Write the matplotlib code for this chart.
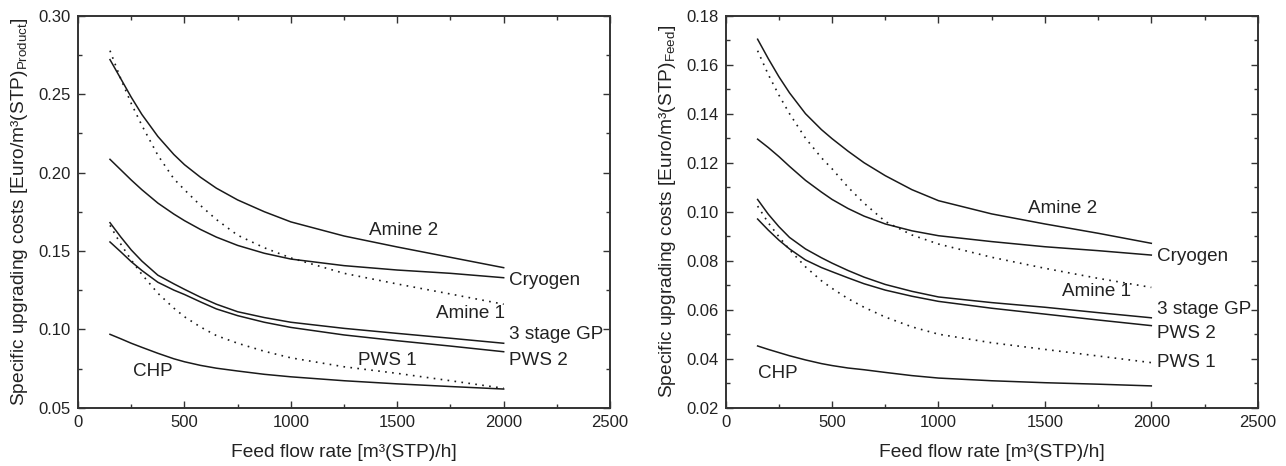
import matplotlib
matplotlib.use("Agg")
import matplotlib.pyplot as plt
from matplotlib.ticker import MultipleLocator, FormatStrFormatter

plt.rcParams['font.family'] = ['Liberation Sans', 'DejaVu Sans']
plt.rcParams['mathtext.fontset'] = 'custom'
plt.rcParams['mathtext.rm'] = 'Liberation Sans'
plt.rcParams['mathtext.it'] = 'Liberation Sans'

# Feed flow rate [m3(STP)/h]
flow = [150, 200, 250, 300, 375, 450, 500, 575, 650, 750, 875, 1000,
        1250, 1500, 1750, 2000]

# Costs per m3 of product gas
prod_amine2 = [0.272, 0.260, 0.248, 0.237, 0.223, 0.2115, 0.205, 0.197, 0.190,
               0.1825, 0.175, 0.1685, 0.1595, 0.1525, 0.1459, 0.1393]
prod_cryogen = [0.2084, 0.2018, 0.1952, 0.189, 0.1805, 0.1735, 0.1693, 0.1637, 0.1588,
                0.1535, 0.1485, 0.1448, 0.1406, 0.1378, 0.1357, 0.1329]
prod_amine1 = [0.2777, 0.260, 0.244, 0.230, 0.211, 0.196, 0.189, 0.179, 0.170,
               0.160, 0.152, 0.1455, 0.1357, 0.1289, 0.1225, 0.116]
prod_gp3 = [0.168, 0.159, 0.1506, 0.1435, 0.1345, 0.129, 0.1255, 0.1205, 0.116,
            0.1112, 0.1075, 0.1045, 0.1006, 0.0974, 0.0943, 0.0911]
prod_pws2 = [0.1557, 0.1495, 0.1431, 0.1375, 0.130, 0.125, 0.1222, 0.1175, 0.113,
             0.1087, 0.1045, 0.1012, 0.0964, 0.0927, 0.0893, 0.0857]
prod_pws1 = [0.1663, 0.1545, 0.1442, 0.135, 0.123, 0.1135, 0.108, 0.1015, 0.096,
             0.0911, 0.086, 0.0818, 0.0761, 0.0719, 0.0672, 0.0624]
prod_chp = [0.0968, 0.094, 0.0911, 0.0885, 0.0847, 0.0812, 0.0793, 0.077, 0.0752,
            0.0734, 0.0713, 0.0697, 0.0672, 0.0652, 0.0635, 0.0619]

# Costs per m3 of feed gas
feed_amine2 = [0.1704, 0.1625, 0.1551, 0.1485, 0.140, 0.1335, 0.1298, 0.1247, 0.120,
               0.1147, 0.109, 0.1045, 0.0991, 0.095, 0.0912, 0.0871]
feed_cryogen = [0.1296, 0.1262, 0.1225, 0.1185, 0.1128, 0.108, 0.105, 0.1013, 0.0982,
                0.095, 0.0922, 0.0902, 0.0878, 0.0857, 0.0841, 0.0823]
feed_amine1 = [0.1657, 0.156, 0.1476, 0.140, 0.130, 0.122, 0.1175, 0.110, 0.1035,
               0.096, 0.0905, 0.0868, 0.0814, 0.0769, 0.0728, 0.0691]
feed_gp3 = [0.105, 0.099, 0.0939, 0.0895, 0.0848, 0.0812, 0.079, 0.076, 0.0733,
            0.0703, 0.0675, 0.0652, 0.0629, 0.061, 0.0588, 0.0567]
feed_pws2 = [0.097, 0.0925, 0.0884, 0.0848, 0.0803, 0.0772, 0.0755, 0.073, 0.0706,
             0.068, 0.0655, 0.0634, 0.0606, 0.0582, 0.0558, 0.0535]
feed_pws1 = [0.1023, 0.0955, 0.0898, 0.0845, 0.0775, 0.0718, 0.0687, 0.0645, 0.061,
             0.057, 0.053, 0.050, 0.0465, 0.0438, 0.0411, 0.0384]
feed_chp = [0.0452, 0.0438, 0.0425, 0.0412, 0.0395, 0.038, 0.0372, 0.0362, 0.0355,
            0.0344, 0.0331, 0.0321, 0.031, 0.0302, 0.0296, 0.0289]

INK = '#1a1a1a'
TXT = '#222222'
SOLID = dict(color=INK, lw=1.1, ls='-')
DOTTED = dict(color=INK, lw=1.2, ls=(0, (1, 3.2)))
LABEL_FS = 13.6
AXLABEL_FS = 13.8

fig = plt.figure(figsize=(12.86, 4.66), dpi=100)
ax1 = fig.add_axes([0.0607, 0.1251, 0.4137, 0.8412])
ax2 = fig.add_axes([0.5643, 0.1251, 0.4137, 0.8412])


def style_axes(ax, ylim, ymajor, yminor, yfmt):
    ax.set_xlim(0, 2500)
    ax.set_ylim(*ylim)
    ax.xaxis.set_major_locator(MultipleLocator(500))
    ax.xaxis.set_minor_locator(MultipleLocator(250))
    ax.yaxis.set_major_locator(MultipleLocator(ymajor))
    ax.yaxis.set_minor_locator(MultipleLocator(yminor))
    ax.yaxis.set_major_formatter(FormatStrFormatter(yfmt))
    ax.tick_params(which='both', direction='in', top=True, right=True,
                   color='#333333', width=1.0, labelsize=12,
                   labelcolor=TXT)
    ax.tick_params(which='major', length=5, pad=5)
    ax.tick_params(which='minor', length=3)
    for sp in ax.spines.values():
        sp.set_linewidth(1.4)
        sp.set_color('#333333')
    ax.set_xlabel('Feed flow rate [m³(STP)/h]', fontsize=AXLABEL_FS, color=TXT,
                  labelpad=10)


# Left panel: per product gas
ax1.plot(flow, prod_amine2, **SOLID)
ax1.plot(flow, prod_cryogen, **SOLID)
ax1.plot(flow, prod_amine1, **DOTTED)
ax1.plot(flow, prod_gp3, **SOLID)
ax1.plot(flow, prod_pws2, **SOLID)
ax1.plot(flow, prod_pws1, **DOTTED)
ax1.plot(flow, prod_chp, **SOLID)
style_axes(ax1, (0.05, 0.30), 0.05, 0.025, '%.2f')
ax1.set_ylabel(r'Specific upgrading costs [Euro/m³(STP)$_{\mathregular{Product}}$]',
               fontsize=AXLABEL_FS, color=TXT, labelpad=6)

tk = dict(fontsize=LABEL_FS, color=TXT)
ax1.text(1530, 0.1633, 'Amine 2', ha='center', va='center', **tk)
ax1.text(2025, 0.1314, 'Cryogen', ha='left', va='center', **tk)
ax1.text(2005, 0.1098, 'Amine 1', ha='right', va='center', **tk)
ax1.text(2025, 0.0964, '3 stage GP', ha='left', va='center', **tk)
ax1.text(2025, 0.0804, 'PWS 2', ha='left', va='center', **tk)
ax1.text(1453, 0.0798, 'PWS 1', ha='center', va='center', **tk)
ax1.text(257, 0.0729, 'CHP', ha='left', va='center', **tk)

# Right panel: per feed gas
ax2.plot(flow, feed_amine2, **SOLID)
ax2.plot(flow, feed_cryogen, **SOLID)
ax2.plot(flow, feed_amine1, **DOTTED)
ax2.plot(flow, feed_gp3, **SOLID)
ax2.plot(flow, feed_pws2, **SOLID)
ax2.plot(flow, feed_pws1, **DOTTED)
ax2.plot(flow, feed_chp, **SOLID)
style_axes(ax2, (0.02, 0.18), 0.02, 0.01, '%.2f')
ax2.set_ylabel(r'Specific upgrading costs [Euro/m³(STP)$_{\mathregular{Feed}}$]',
               fontsize=AXLABEL_FS, color=TXT, labelpad=6)

ax2.text(1583, 0.1014, 'Amine 2', ha='center', va='center', **tk)
ax2.text(2025, 0.0819, 'Cryogen', ha='left', va='center', **tk)
ax2.text(1903, 0.0676, 'Amine 1', ha='right', va='center', **tk)
ax2.text(2025, 0.0599, '3 stage GP', ha='left', va='center', **tk)
ax2.text(2025, 0.0504, 'PWS 2', ha='left', va='center', **tk)
ax2.text(2025, 0.0384, 'PWS 1', ha='left', va='center', **tk)
ax2.text(153, 0.034, 'CHP', ha='left', va='center', **tk)

fig.savefig('out.png', dpi=100, facecolor='white')
